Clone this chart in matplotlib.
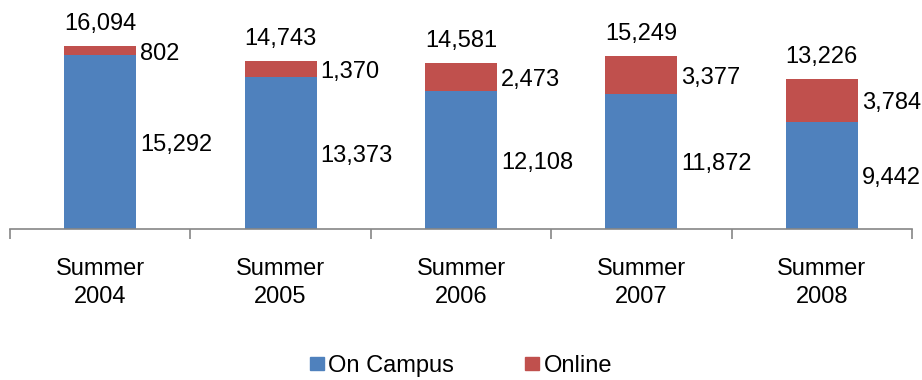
import matplotlib.pyplot as plt
from matplotlib.patches import Patch
import numpy as np

plt.rcParams['font.family'] = ['Liberation Sans', 'DejaVu Sans']

# enrollment by summer term
terms = ["Summer\n2004", "Summer\n2005", "Summer\n2006", "Summer\n2007", "Summer\n2008"]
on_campus = [15292, 13373, 12108, 11872, 9442]
online = [802, 1370, 2473, 3377, 3784]
totals = [16094, 14743, 14581, 15249, 13226]

blue = '#4F81BD'
red = '#C0504D'
axcol = '#868686'
fs = 17

fig = plt.figure(figsize=(9.22, 3.8), dpi=100)
W, H = 922, 380
# axes placed in pixel terms: baseline at y=229, x from 10 to 912
ax = fig.add_axes([10 / W, (H - 229) / H, 902 / W, 204.7 / H])

x = np.arange(len(terms))
w = 0.4
ax.bar(x, on_campus, w, color=blue, label='On Campus')
ax.bar(x, online, w, bottom=on_campus, color=red, label='Online')

ax.set_xlim(-0.5, len(terms) - 0.5)
ax.set_ylim(0, 18000)
ax.set_yticks([])
for s in ['top', 'right', 'left']:
    ax.spines[s].set_visible(False)
ax.spines['bottom'].set_color(axcol)
ax.spines['bottom'].set_linewidth(1.2)

ax.set_xticks(np.arange(-0.5, len(terms)), labels=[''] * (len(terms) + 1))
ax.tick_params(axis='x', which='major', length=7, width=1.2, color=axcol, direction='out')
ax.set_xticks(x, labels=terms, minor=True)
ax.tick_params(axis='x', which='minor', length=0, pad=21, labelsize=fs)
for t in ax.get_xticklabels(minor=True):
    t.set_linespacing(1.33)

for i in range(len(terms)):
    ax.annotate(f"{totals[i]:,}", (x[i], totals[i]), xytext=(0, 22),
                textcoords='offset pixels', ha='center', va='center', fontsize=fs)
    ax.annotate(f"{online[i]:,}", (x[i] + w / 2, on_campus[i] + online[i] / 2),
                xytext=(4, -3), textcoords='offset pixels', ha='left', va='center', fontsize=fs)
    ax.annotate(f"{on_campus[i]:,}", (x[i] + w / 2, on_campus[i] / 2),
                xytext=(4, -3), textcoords='offset pixels', ha='left', va='center', fontsize=fs)

handles = [Patch(color=blue, label='On Campus'), Patch(color=red, label='Online')]
fig.legend(handles=handles, loc='center', bbox_to_anchor=(461 / W, (H - 366) / H),
           ncol=2, frameon=False, fontsize=fs, handlelength=0.6, handleheight=0.5,
           handletextpad=0.2, columnspacing=3.0)

fig.savefig('out.png', dpi=100)
